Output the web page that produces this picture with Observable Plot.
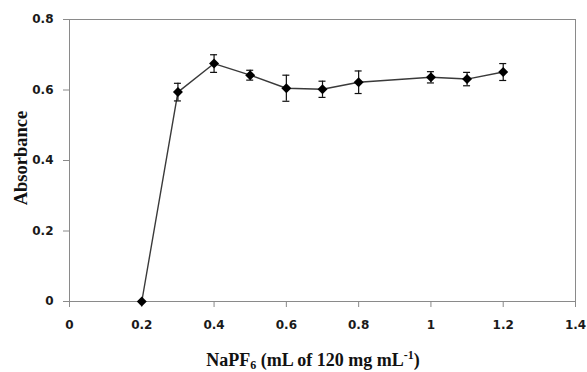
<!DOCTYPE html>
<html>
<head>
<meta charset="utf-8">
<script src="https://cdn.jsdelivr.net/npm/d3@7"></script>
<script src="https://cdn.jsdelivr.net/npm/@observablehq/plot@0.6"></script>
<style>
  html, body { margin: 0; padding: 0; background: #fff; }
  #chart { width: 587px; height: 372px; overflow: hidden; }
</style>
</head>
<body>
<div id="chart"></div>
<script>
// NaPF6 volume (mL of 120 mg mL-1)
const volumes = [0.2, 0.3, 0.4, 0.5, 0.6, 0.7, 0.8, 1.0, 1.1, 1.2];
// Absorbance
const absorbance = [0, 0.594, 0.675, 0.642, 0.605, 0.602, 0.622, 0.636, 0.631, 0.651];
// Error (± half-range)
const errors = [null, 0.025, 0.025, 0.014, 0.037, 0.023, 0.032, 0.016, 0.019, 0.024];
// Tick labels
const xTicks = [0, 0.2, 0.4, 0.6, 0.8, 1, 1.2, 1.4];
const yTicks = [0, 0.2, 0.4, 0.6, 0.8];

const data = volumes.map((x, i) => ({x, y: absorbance[i], e: errors[i]}));
const err = data.filter(d => d.e != null);

const axisStyle = {
  tickSize: 6,
  stroke: "#8a8a8a",
  fill: "#1a1a1a",
  fontWeight: "bold",
  fontSize: 12,
  fontFamily: "DejaVu Sans",
  tickFormat: d => String(d),
  label: null
};

const plot = Plot.plot({
  width: 587,
  height: 372,
  marginLeft: 69,
  marginRight: 12,
  marginTop: 19,
  marginBottom: 71,
  style: {background: "#fff", fontFamily: "DejaVu Sans"},
  x: {domain: [0, 1.4]},
  y: {domain: [0, 0.8]},
  marks: [
    Plot.frame({stroke: "#8a8a8a"}),
    Plot.axisY({...axisStyle, ticks: yTicks, tickPadding: 10}),
    Plot.axisX({...axisStyle, ticks: xTicks, tickPadding: 13}),
    Plot.line(data, {x: "x", y: "y", stroke: "#3a3a3a", strokeWidth: 1.4}),
    Plot.ruleX(err, {x: "x", y1: d => d.y - d.e, y2: d => d.y + d.e, stroke: "#111", strokeWidth: 1.2}),
    Plot.ruleY(err, {y: d => d.y + d.e, x1: "x", x2: "x", insetLeft: -3.5, insetRight: -3.5, stroke: "#111", strokeWidth: 1.2}),
    Plot.ruleY(err, {y: d => d.y - d.e, x1: "x", x2: "x", insetLeft: -3.5, insetRight: -3.5, stroke: "#111", strokeWidth: 1.2}),
    Plot.dot(data, {x: "x", y: "y", symbol: "diamond2", r: 4.5, fill: "#000", stroke: "none"})
  ]
});

const svg = d3.select(plot);
// Y axis title
svg.append("text")
  .attr("transform", "translate(27,158) rotate(-90)")
  .attr("text-anchor", "middle")
  .attr("font-family", "'Liberation Serif', 'Times New Roman', serif")
  .attr("font-weight", "bold")
  .attr("font-size", 18.5)
  .attr("fill", "#111")
  .text("Absorbance");

// X axis title with subscript and superscript
const xt = svg.append("text")
  .attr("x", 313)
  .attr("y", 366)
  .attr("text-anchor", "middle")
  .attr("font-family", "'Liberation Serif', 'Times New Roman', serif")
  .attr("font-weight", "bold")
  .attr("font-size", 18)
  .attr("fill", "#111");
xt.append("tspan").text("NaPF");
xt.append("tspan").attr("font-size", 12).attr("dy", 3).text("6");
xt.append("tspan").attr("dy", -3).text(" (mL of 120 mg mL");
xt.append("tspan").attr("font-size", 12).attr("dy", -7).text("-1");
xt.append("tspan").attr("dy", 7).text(")");

document.getElementById("chart").appendChild(plot);
</script>
</body>
</html>
